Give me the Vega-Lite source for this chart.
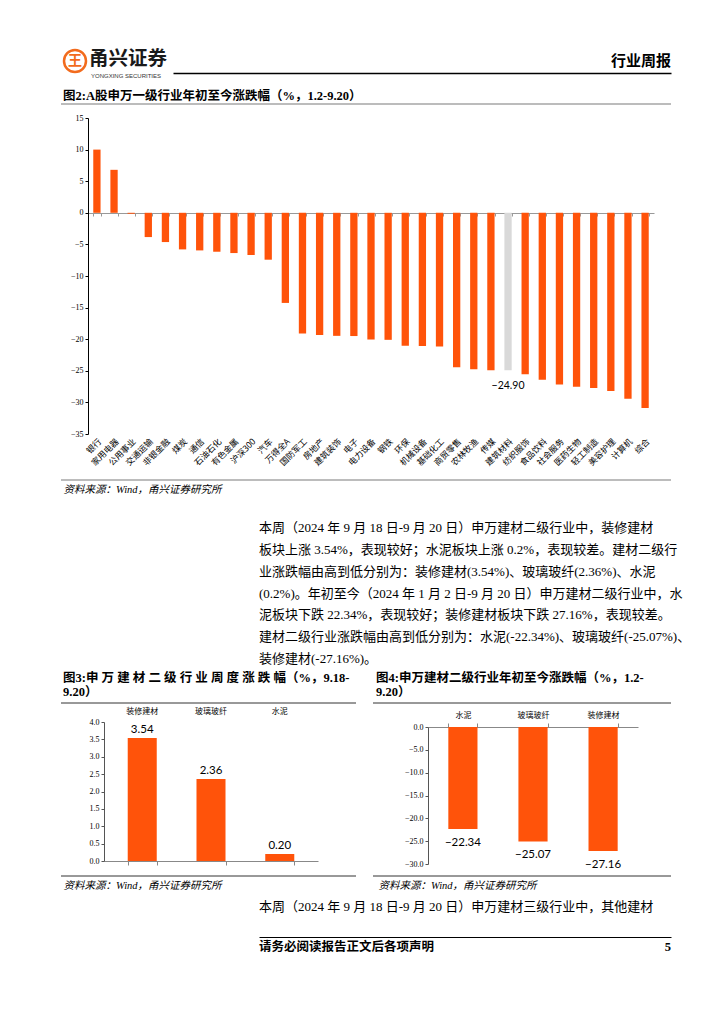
{
  "$schema": "https://vega.github.io/schema/vega-lite/v6.json",
  "background": "white",
  "padding": {"left": 59, "top": 45, "right": 5, "bottom": 5},
  "config": {
    "view": {"stroke": null},
    "font": "Liberation Serif, Noto Sans CJK SC",
    "axis": {"grid": false},
    "title": {"color": "#000", "font": "Liberation Serif, Noto Sans CJK SC"}
  },
  "datasets": {
    "main": [
      {"industry": "银行", "pct": 10.0},
      {"industry": "家用电器", "pct": 6.8},
      {"industry": "公用事业", "pct": -0.15},
      {"industry": "交通运输", "pct": -3.84},
      {"industry": "非银金融", "pct": -4.63},
      {"industry": "煤炭", "pct": -5.79},
      {"industry": "通信", "pct": -5.95},
      {"industry": "石油石化", "pct": -6.16},
      {"industry": "有色金属", "pct": -6.37},
      {"industry": "沪深300", "pct": -6.68},
      {"industry": "汽车", "pct": -7.42},
      {"industry": "万得全A", "pct": -14.26},
      {"industry": "国防军工", "pct": -19.1},
      {"industry": "房地产", "pct": -19.32},
      {"industry": "建筑装饰", "pct": -19.47},
      {"industry": "电子", "pct": -19.5},
      {"industry": "电力设备", "pct": -20.05},
      {"industry": "钢铁", "pct": -20.1},
      {"industry": "环保", "pct": -21.05},
      {"industry": "机械设备", "pct": -21.06},
      {"industry": "基础化工", "pct": -21.16},
      {"industry": "商贸零售", "pct": -24.42},
      {"industry": "农林牧渔", "pct": -24.74},
      {"industry": "传媒", "pct": -24.93},
      {"industry": "建筑材料", "pct": -24.9},
      {"industry": "纺织服饰", "pct": -25.53},
      {"industry": "食品饮料", "pct": -26.42},
      {"industry": "社会服务", "pct": -27.16},
      {"industry": "医药生物", "pct": -27.53},
      {"industry": "轻工制造", "pct": -27.74},
      {"industry": "美容护理", "pct": -28.21},
      {"industry": "计算机", "pct": -29.42},
      {"industry": "综合", "pct": -30.89}
    ],
    "week": [
      {"cat": "装修建材", "v": 3.54},
      {"cat": "玻璃玻纤", "v": 2.36},
      {"cat": "水泥", "v": 0.2}
    ],
    "ytd": [
      {"cat": "水泥", "v": -22.34},
      {"cat": "玻璃玻纤", "v": -25.07},
      {"cat": "装修建材", "v": -27.16}
    ],
    "para": [
      {"line": 1, "text": "　本周（2024 年 9 月 18 日-9 月 20 日）申万建材二级行业中，装修建材"},
      {"line": 2, "text": "板块上涨 3.54%，表现较好；水泥板块上涨 0.2%，表现较差。建材二级行"},
      {"line": 3, "text": "业涨跌幅由高到低分别为：装修建材(3.54%)、玻璃玻纤(2.36%)、水泥"},
      {"line": 4, "text": "(0.2%)。年初至今（2024 年 1 月 2 日-9 月 20 日）申万建材二级行业中，水"},
      {"line": 5, "text": "泥板块下跌 22.34%，表现较好；装修建材板块下跌 27.16%，表现较差。"},
      {"line": 6, "text": "建材二级行业涨跌幅由高到低分别为：水泥(-22.34%)、玻璃玻纤(-25.07%)、"},
      {"line": 7, "text": "装修建材(-27.16%)。"}
    ]
  },
  "spacing": 5,
  "vconcat": [
    {
      "width": 610,
      "height": 35,
      "layer": [
        {
          "data": {"values": [{"t": "行业周报"}]},
          "mark": {"type": "text", "align": "right", "baseline": "middle", "dy": -5.5, "fontSize": 15, "fontWeight": "bold", "font": "Liberation Serif, Noto Sans CJK SC", "color": "#000"},
          "encoding": {
            "text": {"field": "t"},
            "x": {"datum": 1, "type": "quantitative", "scale": {"domain": [0, 1], "range": [112, 610]}, "axis": {"orient": "bottom", "offset": -11, "domainColor": "#000", "domainWidth": 1.5, "labels": false, "ticks": false, "grid": false, "title": null}}
          }
        },
        {
          "data": {"values": [{"t": "甬兴证券"}]},
          "mark": {"type": "text", "align": "left", "baseline": "middle", "dx": -84, "dy": -7.5, "fontSize": 19.5, "fontWeight": "bold", "font": "Noto Sans CJK SC", "color": "#1a1a1a"},
          "encoding": {
            "text": {"field": "t"},
            "x": {"datum": 0, "type": "quantitative", "axis": {"orient": "bottom", "offset": -11, "domainColor": "#000", "domainWidth": 1.5, "labels": false, "ticks": false, "grid": false, "title": null}}
          }
        },
        {
          "data": {"values": [{"t": "YONGXING SECURITIES"}]},
          "mark": {"type": "text", "align": "left", "baseline": "middle", "dx": -82, "dy": 9.5, "fontSize": 6, "font": "Liberation Sans", "color": "#333"},
          "encoding": {
            "text": {"field": "t"},
            "x": {"datum": 0, "type": "quantitative", "axis": {"orient": "bottom", "offset": -11, "domainColor": "#000", "domainWidth": 1.5, "labels": false, "ticks": false, "grid": false, "title": null}}
          }
        },
        {
          "data": {"values": [{"t": "logo"}]},
          "mark": {"type": "point", "shape": "circle", "filled": false, "size": 484, "strokeWidth": 2.5, "color": "#F26B1D", "opacity": 1, "xOffset": -98, "yOffset": -5.5},
          "encoding": {
            "x": {"datum": 0, "type": "quantitative", "axis": {"orient": "bottom", "offset": -11, "domainColor": "#000", "domainWidth": 1.5, "labels": false, "ticks": false, "grid": false, "title": null}}
          }
        },
        {
          "data": {"values": [{"t": "王"}]},
          "mark": {"type": "text", "align": "center", "baseline": "middle", "dx": -98, "dy": -5.5, "fontSize": 14, "fontWeight": "bold", "font": "Noto Sans CJK SC", "color": "#F26B1D"},
          "encoding": {
            "text": {"field": "t"},
            "x": {"datum": 0, "type": "quantitative", "axis": {"orient": "bottom", "offset": -11, "domainColor": "#000", "domainWidth": 1.5, "labels": false, "ticks": false, "grid": false, "title": null}}
          }
        }
      ]
    },
    {
      "width": 610,
      "height": 376,
      "data": {"name": "main"},
      "title": {"text": "图2:A股申万一级行业年初至今涨跌幅（%，1.2-9.20）", "anchor": "start", "frame": "group", "dx": 2, "offset": -12, "baseline": "bottom", "fontSize": 12.5, "fontWeight": "bold"},
      "layer": [
        {
          "mark": {"type": "bar"},
          "encoding": {
            "x": {"field": "industry", "type": "nominal", "sort": null, "scale": {"range": [27, 593], "paddingInner": 0.574, "paddingOuter": 0.307}, "axis": {"orient": "bottom", "offset": -267, "domain": true, "domainColor": "#999", "domainWidth": 1, "ticks": true, "tickBand": "extent", "tickColor": "#999", "tickSize": 3, "labels": false, "title": null}},
            "y": {"field": "pct", "type": "quantitative", "scale": {"domain": [-35, 15], "range": [330, 14], "nice": false}, "axis": {"offset": -27, "values": [15, 10, 5, 0, -5, -10, -15, -20, -25, -30, -35], "grid": false, "domainColor": "#000", "tickColor": "#000", "tickSize": 3, "labelFont": "Liberation Serif", "labelFontSize": 8, "labelColor": "#000", "labelPadding": 2, "title": "资料来源：Wind，甬兴证券研究所", "titleAngle": 0, "titleX": -25, "titleY": 380, "titleAlign": "left", "titleBaseline": "top", "titleFont": "Liberation Serif, Noto Sans CJK SC", "titleFontStyle": "italic", "titleFontWeight": "normal", "titleFontSize": 10.5, "titleColor": "#000"}},
            "color": {"condition": {"test": "datum.industry === '建筑材料'", "value": "#D9D9D9"}, "value": "#FF530A"}
          }
        },
        {
          "mark": {"type": "text", "baseline": "middle", "dy": 16, "font": "Lato", "fontSize": 10.5, "color": "#000"},
          "encoding": {
            "x": {"field": "industry", "type": "nominal", "sort": null, "scale": {"range": [27, 593], "paddingInner": 0.574, "paddingOuter": 0.307}, "axis": {"orient": "bottom", "offset": -267, "domain": true, "domainColor": "#999", "domainWidth": 1, "ticks": true, "tickBand": "extent", "tickColor": "#999", "tickSize": 3, "labels": false, "title": null}},
            "y": {"field": "pct", "type": "quantitative", "scale": {"domain": [-35, 15], "range": [330, 14], "nice": false}, "axis": {"offset": -27, "values": [15, 10, 5, 0, -5, -10, -15, -20, -25, -30, -35], "grid": false, "domainColor": "#000", "tickColor": "#000", "tickSize": 3, "labelFont": "Liberation Serif", "labelFontSize": 8, "labelColor": "#000", "labelPadding": 2, "title": "资料来源：Wind，甬兴证券研究所", "titleAngle": 0, "titleX": -25, "titleY": 380, "titleAlign": "left", "titleBaseline": "top", "titleFont": "Liberation Serif, Noto Sans CJK SC", "titleFontStyle": "italic", "titleFontWeight": "normal", "titleFontSize": 10.5, "titleColor": "#000"}},
            "text": {"field": "pct", "format": ".2f", "condition": {"test": "datum.industry !== '建筑材料'", "value": ""}}
          }
        },
        {
          "mark": {"type": "text", "align": "right", "baseline": "middle", "angle": -45, "xOffset": 3, "yOffset": 6, "font": "Noto Sans CJK SC", "fontSize": 8.5, "color": "#000"},
          "encoding": {
            "x": {"field": "industry", "type": "nominal", "sort": null, "scale": {"range": [27, 593], "paddingInner": 0.574, "paddingOuter": 0.307}, "axis": {"orient": "bottom", "offset": -267, "domain": true, "domainColor": "#999", "domainWidth": 1, "ticks": true, "tickBand": "extent", "tickColor": "#999", "tickSize": 3, "labels": false, "title": null}},
            "y": {"datum": -35, "type": "quantitative", "scale": {"domain": [-35, 15], "range": [330, 14], "nice": false}, "axis": {"offset": -27, "values": [15, 10, 5, 0, -5, -10, -15, -20, -25, -30, -35], "grid": false, "domainColor": "#000", "tickColor": "#000", "tickSize": 3, "labelFont": "Liberation Serif", "labelFontSize": 8, "labelColor": "#000", "labelPadding": 2, "title": "资料来源：Wind，甬兴证券研究所", "titleAngle": 0, "titleX": -25, "titleY": 380, "titleAlign": "left", "titleBaseline": "top", "titleFont": "Liberation Serif, Noto Sans CJK SC", "titleFontStyle": "italic", "titleFontWeight": "normal", "titleFontSize": 10.5, "titleColor": "#000"}},
            "text": {"field": "industry"}
          }
        },
        {
          "data": {"values": [{"t": "top"}]},
          "mark": {"type": "rule", "color": "#A6A6A6", "strokeWidth": 1.5},
          "encoding": {"y": {"value": 0}}
        },
        {
          "data": {"values": [{"t": "bottom"}]},
          "mark": {"type": "rule", "color": "#A6A6A6", "strokeWidth": 1.5},
          "encoding": {"y": {"value": "height"}}
        }
      ]
    },
    {
      "width": 610,
      "height": 166,
      "data": {"name": "para"},
      "mark": {"type": "text", "align": "left", "baseline": "middle", "fontSize": 13, "font": "Liberation Serif, Noto Sans CJK SC", "color": "#000"},
      "encoding": {
        "text": {"field": "text"},
        "x": {"datum": 0, "type": "quantitative", "scale": {"domain": [0, 1], "range": [198, 610]}, "axis": null},
        "y": {"field": "line", "type": "quantitative", "scale": {"domain": [1, 7], "range": [28, 159.2]}, "axis": null}
      }
    },
    {
      "spacing": 15,
      "hconcat": [
        {
          "width": 295,
          "height": 173,
          "data": {"name": "week"},
          "title": {"text": ["图3:申 万 建 材 二 级 行 业 周 度 涨 跌 幅（%，9.18-", "9.20）"], "anchor": "start", "frame": "group", "dx": 2, "offset": -9, "baseline": "bottom", "lineHeight": 14, "fontSize": 12.5, "fontWeight": "bold"},
          "layer": [
            {
              "mark": {"type": "bar", "color": "#FF530A"},
              "encoding": {
                "x": {"field": "cat", "type": "nominal", "sort": null, "scale": {"range": [43, 257], "paddingInner": 0.578, "paddingOuter": 0.345}, "axis": {"orient": "bottom", "offset": -15, "domain": true, "domainColor": "#888", "ticks": true, "tickBand": "extent", "tickColor": "#888", "tickSize": 4, "labels": false, "title": null}},
                "y": {"field": "v", "type": "quantitative", "scale": {"domain": [0, 4], "range": [158, 19], "nice": false}, "axis": {"offset": -43, "values": [0, 0.5, 1, 1.5, 2, 2.5, 3, 3.5, 4], "format": ".1f", "grid": false, "domainColor": "#555", "tickColor": "#555", "tickSize": 3, "labelFont": "Liberation Serif", "labelFontSize": 8, "labelColor": "#000", "labelPadding": 2, "title": "资料来源：Wind，甬兴证券研究所", "titleAngle": 0, "titleX": -41, "titleY": 177, "titleAlign": "left", "titleBaseline": "top", "titleFont": "Liberation Serif, Noto Sans CJK SC", "titleFontStyle": "italic", "titleFontWeight": "normal", "titleFontSize": 10.5, "titleColor": "#000"}}
              }
            },
            {
              "mark": {"type": "text", "baseline": "bottom", "dy": -3, "font": "Lato", "fontSize": 11.5, "color": "#000"},
              "encoding": {
                "x": {"field": "cat", "type": "nominal", "sort": null, "scale": {"range": [43, 257], "paddingInner": 0.578, "paddingOuter": 0.345}, "axis": {"orient": "bottom", "offset": -15, "domain": true, "domainColor": "#888", "ticks": true, "tickBand": "extent", "tickColor": "#888", "tickSize": 4, "labels": false, "title": null}},
                "y": {"field": "v", "type": "quantitative", "scale": {"domain": [0, 4], "range": [158, 19], "nice": false}, "axis": {"offset": -43, "values": [0, 0.5, 1, 1.5, 2, 2.5, 3, 3.5, 4], "format": ".1f", "grid": false, "domainColor": "#555", "tickColor": "#555", "tickSize": 3, "labelFont": "Liberation Serif", "labelFontSize": 8, "labelColor": "#000", "labelPadding": 2, "title": "资料来源：Wind，甬兴证券研究所", "titleAngle": 0, "titleX": -41, "titleY": 177, "titleAlign": "left", "titleBaseline": "top", "titleFont": "Liberation Serif, Noto Sans CJK SC", "titleFontStyle": "italic", "titleFontWeight": "normal", "titleFontSize": 10.5, "titleColor": "#000"}},
                "text": {"field": "v", "format": ".2f"}
              }
            },
            {
              "mark": {"type": "text", "baseline": "middle", "yOffset": -10, "font": "Noto Sans CJK SC", "fontSize": 8, "color": "#000"},
              "encoding": {
                "x": {"field": "cat", "type": "nominal", "sort": null, "scale": {"range": [43, 257], "paddingInner": 0.578, "paddingOuter": 0.345}, "axis": {"orient": "bottom", "offset": -15, "domain": true, "domainColor": "#888", "ticks": true, "tickBand": "extent", "tickColor": "#888", "tickSize": 4, "labels": false, "title": null}},
                "y": {"datum": 4, "type": "quantitative", "scale": {"domain": [0, 4], "range": [158, 19], "nice": false}, "axis": {"offset": -43, "values": [0, 0.5, 1, 1.5, 2, 2.5, 3, 3.5, 4], "format": ".1f", "grid": false, "domainColor": "#555", "tickColor": "#555", "tickSize": 3, "labelFont": "Liberation Serif", "labelFontSize": 8, "labelColor": "#000", "labelPadding": 2, "title": "资料来源：Wind，甬兴证券研究所", "titleAngle": 0, "titleX": -41, "titleY": 177, "titleAlign": "left", "titleBaseline": "top", "titleFont": "Liberation Serif, Noto Sans CJK SC", "titleFontStyle": "italic", "titleFontWeight": "normal", "titleFontSize": 10.5, "titleColor": "#000"}},
                "text": {"field": "cat"}
              }
            },
            {
              "data": {"values": [{"t": "top"}]},
              "mark": {"type": "rule", "color": "#333", "strokeWidth": 1},
              "encoding": {"y": {"value": 0}}
            },
            {
              "data": {"values": [{"t": "bottom"}]},
              "mark": {"type": "rule", "color": "#333", "strokeWidth": 1},
              "encoding": {"y": {"value": "height"}}
            }
          ]
        },
        {
          "width": 298,
          "height": 173,
          "data": {"name": "ytd"},
          "title": {"text": ["图4:申万建材二级行业年初至今涨跌幅（%，1.2-", "9.20）"], "anchor": "start", "frame": "group", "dx": 3, "offset": -9, "baseline": "bottom", "lineHeight": 14, "fontSize": 12.5, "fontWeight": "bold"},
          "layer": [
            {
              "mark": {"type": "bar", "color": "#FF530A"},
              "encoding": {
                "x": {"field": "cat", "type": "nominal", "sort": null, "scale": {"range": [55, 265], "paddingInner": 0.584, "paddingOuter": 0.29}, "axis": {"orient": "top", "offset": -24, "domain": true, "domainColor": "#888", "ticks": true, "tickBand": "extent", "tickColor": "#888", "tickSize": 4, "labelAngle": 0, "labelFont": "Noto Sans CJK SC", "labelFontSize": 8, "labelColor": "#000", "labelPadding": 4, "title": null}},
                "y": {"field": "v", "type": "quantitative", "scale": {"domain": [-30, 0], "range": [161, 24], "nice": false}, "axis": {"offset": -55, "values": [0, -5, -10, -15, -20, -25, -30], "format": ".1f", "grid": false, "domainColor": "#555", "tickColor": "#555", "tickSize": 3, "labelFont": "Liberation Serif", "labelFontSize": 8, "labelColor": "#000", "labelPadding": 2, "title": "资料来源：Wind，甬兴证券研究所", "titleAngle": 0, "titleX": -50, "titleY": 177, "titleAlign": "left", "titleBaseline": "top", "titleFont": "Liberation Serif, Noto Sans CJK SC", "titleFontStyle": "italic", "titleFontWeight": "normal", "titleFontSize": 10.5, "titleColor": "#000"}}
              }
            },
            {
              "mark": {"type": "text", "baseline": "top", "dy": 8, "font": "Lato", "fontSize": 11.5, "color": "#000"},
              "encoding": {
                "x": {"field": "cat", "type": "nominal", "sort": null, "scale": {"range": [55, 265], "paddingInner": 0.584, "paddingOuter": 0.29}, "axis": {"orient": "top", "offset": -24, "domain": true, "domainColor": "#888", "ticks": true, "tickBand": "extent", "tickColor": "#888", "tickSize": 4, "labelAngle": 0, "labelFont": "Noto Sans CJK SC", "labelFontSize": 8, "labelColor": "#000", "labelPadding": 4, "title": null}},
                "y": {"field": "v", "type": "quantitative", "scale": {"domain": [-30, 0], "range": [161, 24], "nice": false}, "axis": {"offset": -55, "values": [0, -5, -10, -15, -20, -25, -30], "format": ".1f", "grid": false, "domainColor": "#555", "tickColor": "#555", "tickSize": 3, "labelFont": "Liberation Serif", "labelFontSize": 8, "labelColor": "#000", "labelPadding": 2, "title": "资料来源：Wind，甬兴证券研究所", "titleAngle": 0, "titleX": -50, "titleY": 177, "titleAlign": "left", "titleBaseline": "top", "titleFont": "Liberation Serif, Noto Sans CJK SC", "titleFontStyle": "italic", "titleFontWeight": "normal", "titleFontSize": 10.5, "titleColor": "#000"}},
                "text": {"field": "v", "format": ".2f"}
              }
            },
            {
              "data": {"values": [{"t": "top"}]},
              "mark": {"type": "rule", "color": "#333", "strokeWidth": 1},
              "encoding": {"y": {"value": 0}}
            },
            {
              "data": {"values": [{"t": "bottom"}]},
              "mark": {"type": "rule", "color": "#333", "strokeWidth": 1},
              "encoding": {"y": {"value": "height"}}
            }
          ]
        }
      ]
    },
    {
      "width": 610,
      "height": 60,
      "layer": [
        {
          "data": {"values": [{"t": "　本周（2024 年 9 月 18 日-9 月 20 日）申万建材三级行业中，其他建材"}]},
          "mark": {"type": "text", "align": "left", "baseline": "middle", "dy": -19, "fontSize": 13, "font": "Liberation Serif, Noto Sans CJK SC", "color": "#000"},
          "encoding": {
            "text": {"field": "t"},
            "x": {"datum": 0, "type": "quantitative", "scale": {"domain": [0, 1], "range": [198, 610]}, "axis": {"orient": "top", "offset": -41, "domainColor": "#000", "domainWidth": 1, "labels": false, "ticks": false, "grid": false, "title": null}}
          }
        },
        {
          "data": {"values": [{"t": "请务必阅读报告正文后各项声明"}]},
          "mark": {"type": "text", "align": "left", "baseline": "middle", "dy": 21, "fontSize": 12.5, "fontWeight": "bold", "font": "Liberation Serif, Noto Sans CJK SC", "color": "#000"},
          "encoding": {
            "text": {"field": "t"},
            "x": {"datum": 0, "type": "quantitative", "axis": {"orient": "top", "offset": -41, "domainColor": "#000", "domainWidth": 1, "labels": false, "ticks": false, "grid": false, "title": null}}
          }
        },
        {
          "data": {"values": [{"t": "5"}]},
          "mark": {"type": "text", "align": "right", "baseline": "middle", "dy": 21, "fontSize": 12.5, "fontWeight": "bold", "font": "Liberation Serif, Noto Sans CJK SC", "color": "#000"},
          "encoding": {
            "text": {"field": "t"},
            "x": {"datum": 1, "type": "quantitative", "axis": {"orient": "top", "offset": -41, "domainColor": "#000", "domainWidth": 1, "labels": false, "ticks": false, "grid": false, "title": null}}
          }
        }
      ]
    }
  ]
}
